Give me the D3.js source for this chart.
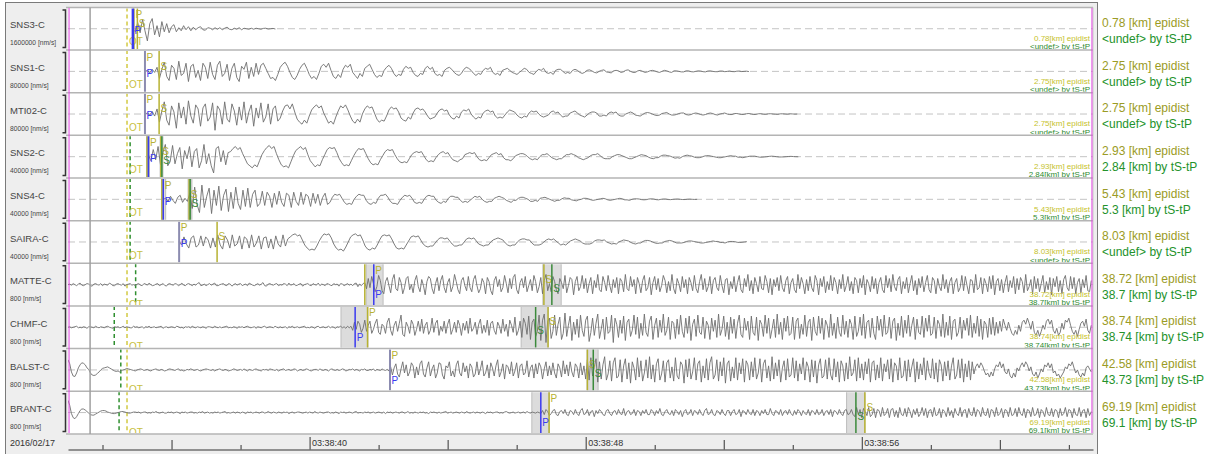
<!DOCTYPE html>
<html>
<head>
<meta charset="utf-8">
<script src="https://cdn.jsdelivr.net/npm/d3@7"></script>
<style>
body { margin: 0; background: #fff; }
text { font-family: "Liberation Sans", Arial, sans-serif; }
</style>
</head>
<body>
<svg id="mainsvg" width="1212" height="454"></svg>
<script>
// stations, scale labels and distances
const stations = ['SNS3-C', 'SNS1-C', 'MTI02-C', 'SNS2-C', 'SNS4-C', 'SAIRA-C', 'MATTE-C', 'CHMF-C', 'BALST-C', 'BRANT-C'];
const ampScale = ['1600000', '80000', '80000', '40000', '40000', '40000', '800', '800', '800', '800'];
const epiDist = ['0.78', '2.75', '2.75', '2.93', '5.43', '8.03', '38.72', '38.74', '42.58', '69.19'];
const tsTpDist = [null, null, null, '2.84', '5.3', null, '38.7', '38.74', '43.73', '69.1'];

// times in seconds after 2016/02/17 03:38:00 UTC
const viewStart = 33.0, viewEnd = 62.7;
const originTime = 34.71;
const refMark = 33.64;
const traceEdges = [33.03, 62.67];
const tsTpOrigin = [null, null, null, 34.80, 34.80, 34.80, 34.96, 34.34, 34.53, 34.48];
const pAuto = [34.91, 35.23, 35.23, 35.29, 35.72, 36.22, 41.60, 41.68, 42.33, 46.94];
const pManual = [34.88, 35.23, 35.23, 35.33, 35.76, 36.22, 41.86, 41.32, 42.33, 46.70];
const sAuto = [35.01, 35.64, 35.64, 35.69, 36.51, 37.32, 46.79, 46.91, 48.05, 56.09];
const sManual = [null, null, null, 35.72, 36.54, null, 47.02, 46.55, 48.22, 55.83];
const pBand = [null, null, null, [35.28, 35.36], [35.72, 35.83], null, [41.64, 42.13], [40.91, 41.69], null, [46.44, 46.94]];
const sBand = [null, null, null, [35.67, 35.75], [36.48, 36.59], null, [46.76, 47.29], [46.13, 46.91], [48.04, 48.36], [55.56, 56.09]];

// waveforms: first sample time, sample step (s), relative amplitude
const traceStart = [34.88, 35.23, 35.23, 35.33, 35.76, 36.22, 33.0, 33.0, 33.0, 33.0];
const sampleDt = [0.07, 0.07, 0.07, 0.07, 0.07, 0.07, 0.05, 0.05, 0.05, 0.05];
const wSNS3 = [0,-3,6,-4,9,-2,-12,5,10,-6, 3,-8,7,-3,5,-4,2,4,-3,1, -2,3,-1,2,-2,1.5,-1,1,2,-1,
  -1.5,1,0.5,-1,1,-0.5,1,-1,0.5,1.5, -0.5,-1,0.5,-0.5,1,-1,0.5,0,-0.5,0.5, -0.5,0.5,0,-0.5,0.3,0.5,-0.3,0,0.3,-0.3];
const wSNS1 = [0,1,-1.5,2,-1,
  4,-7,2,9,-5,-9,6,3,-8,10,-4,-2,8,-10,5,7,-6,1,-9,8,4,-7,9,-3,-8,6,10,-5,-2,7,-9,3,8,-6,-10,5,2,9,-7,4,-5,8,-3,
  6,8,3,-2,-7,-6,-9,-3,4,7,9,5,-1,-6,-8,-4,2,6,8,3,-3,-7,-5,-8,-2,5,7,4,8,1,-5,-7,-3,-6,2,6,4,7,-1,-4,-7,-2,-5,3,5,7,2,-3,-6,-4,-5,1,4,6,3,-2,-5,-3,
  -4,2,5,3,4,-1,-4,-5,-2,-3,3,5,2,4,-2,-4,-3,-5,1,3,4,2,-1,-3,-4,-2,2,4,3,1,-2,-4,-2,-3,1,3,2,4,-1,-3,-2,-4,
  1,2,3,1,-1,-2,-3,-1,1,3,2,-1,-2,-3,0,2,1,3,-1,-2,-1,-3,1,2,2,0,-2,-1,-2,1,2,1,-1,-2,-1,1,1.5,0.5,-1,-1.5,0,
  1,1.5,-0.5,-1,-1.5,0.5,1,0.5,-1,-0.5,1,1.5,0,-1,-1,0.5,1,0,-1,-0.5,0.5,1,0.5,-0.5,-1,0,1,0.5,-0.5,-1,
  0.5,0.5,0,-0.5,-0.5,0.5,0.5,-0.3,-0.5,0,0.5,0.3,-0.3,-0.5,0.3,0.5,0,-0.3,-0.3,0.3,0.3,-0.3,0,0.3,-0.2,-0.3,0.2,0.3,-0.2,0,0.2,-0.2];
const wMTI02 = [0,1,-1,2.5,-2,
  5,-8,3,12,-6,-11,8,2,-14,11,-4,7,-10,13,-2,-9,9,5,-12,6,10,-7,-3,11,-16,8,4,-10,12,-5,-8,10,3,-11,7,-6,12,-9,2,9,-12,6,-4,11,-8,-3,10,-10,5,8,-7,
  -4,3,8,9,5,10,2,-5,-8,-10,-6,-9,-2,4,7,9,6,8,1,-4,-9,-7,-10,-3,3,8,6,9,4,-2,-7,-9,-5,-8,0,5,8,6,7,1,-5,-8,-6,-7,-2,4,7,5,6,2,-4,-6,-7,-3,-5,1,5,6,
  4,5,2,-2,-5,-4,-3,1,4,5,3,4,-1,-4,-5,-2,-4,2,4,3,5,0,-3,-5,-3,-4,1,3,4,2,3,-2,-4,-3,-4,-1,2,4,3,2,-1,-3,-4,-2,-3,1,3,2,3,0,-2,-3,-2,-1,
  2,3,1,2,-1,-3,-2,-2,1,2,3,1,-1,-2,-3,-1,1,2,2,1,-2,-2,-1,-2,1,2,1,2,-1,-2,-2,0,1,2,1,-1,-1.5,-2,-0.5,1,1.5,1,0,-1,-1.5,-1,0.5,1,1.5,0,-1,-1,-0.5,0.5,1,1,-0.5,-1,-0.5,0.5,1,0.5,
  -0.5,-1,-0.5,0.5,1,0.5,-0.5,-1,0,0.5,1,0,-0.5,-0.5,0.5,0.5,0,-0.5,-0.3,0.3,0.5,0,-0.5,-0.3,0.3,0.3,-0.2,-0.3,0.2,0.3,0,-0.2,-0.3,0.2,0.2,0,-0.2,0.2,0.1,-0.1,0];
const wSNS2 = [2,-4,7,-3,10,-8,4,12,-9,-5,11,-7,3,9,-12,6,-2,10,-10,5,8,-11,-4,12,-7,3,-9,-16,8,10,-5,6,-8,4,
  5,8,10,7,9,3,-2,-7,-9,-11,-8,-10,-4,2,6,9,11,8,10,3,-3,-8,-10,-9,-11,-5,1,6,8,10,7,9,2,-4,-7,-10,-8,-9,-3,2,7,9,8,9,4,-2,-6,-9,-8,-9,-4,1,5,8,7,8,3,-2,-6,-8,-7,-8,-3,1,5,7,6,7,2,-2,-5,
  -6,-5,-6,-2,2,4,5,4,5,1,-3,-5,-4,-5,-1,2,4,5,3,4,0,-3,-4,-5,-3,-2,2,3,4,3,4,0,-3,-4,-3,-4,-1,2,3,4,2,3,-1,-3,-3,-4,-2,1,2,3,3,2,0,-2,-3,-2,-3,0,2,2,3,1,
  -1,-2,-3,-2,-2,0,2,2,3,2,1,-1,-2,-3,-2,-1,1,2,2,3,1,-1,-2,-2,-2,0,1,2,2,1,0,-1,-2,-2,-1,0,1,2,1.5,1,-0.5,-1.5,-2,-1,-1,0.5,1.5,1.5,1,0.5,-0.5,-1.5,-1,-1.5,0,1,1.5,1,0.5,-0.5,-1,-1,
  -0.5,0.5,1,1,0.5,0,-0.5,-1,-1,-0.5,0,0.5,1,0.5,0.5,-0.5,-0.5,-1,-0.5,0,0.5,0.5,0.5,0,-0.5,-0.5,-0.3,0,0.3,0.5,0.3,0,-0.3,-0.3,-0.2,0,0.2,0.3,0.1,0,-0.1];
const wSNS4 = [0,1,-2,3,-1,-4,2,4,-3,1,-2,
  6,-9,12,-5,-13,14,-8,3,11,-14,9,-6,13,-11,4,10,-12,7,-9,12,-4,-10,9,-7,11,
  -8,5,9,-7,-4,8,-6,7,3,-8,6,-5,8,-3,-7,6,4,-8,7,-2,-6,7,-5,5,3,-7,6,-4,5,-6,2,6,-5,
  -3,2,5,4,5,1,-3,-5,-4,-5,0,3,5,4,4,-1,-4,-5,-3,-4,1,4,4,5,2,-2,-4,-4,-5,-1,2,4,3,4,1,-3,-4,-3,-4,0,3,4,3,3,-1,-3,-4,-2,-3,1,
  3,3,2,2,-1,-3,-2,-3,-1,1,3,2,3,0,-2,-3,-2,-2,1,2,3,2,1,-1,-2,-3,-1,-1,1,2,2,1,0,-2,-2,-1,-2,1,1.5,2,1,0,-1,-2,-1,-1,0.5,1.5,1,1,-0.5,-1,-1.5,-0.5,0,1,1,0.5,-0.5,-1,-0.5,0,
  0.5,1,0.5,-0.5,-1,-0.5,0,0.5,1,0.5,-0.5,-0.5,-1,0,0.5,0.5,0.3,-0.3,-0.5,-0.3,0.3,0.5,0.3,-0.3,-0.5,0,0.3,0.3,-0.2,-0.3,0,0.2,0.3,0,-0.2,-0.2,0.1,0.2,0,-0.1,0];
const wSAIRA = [1,-3,5,-2,-6,4,6,-5,-3,6,-4,5,2,-6,4,
  -5,7,-3,-7,6,2,-6,7,-4,-2,6,-7,5,3,-6,7,-5,-1,6,-7,4,5,-6,3,-7,6,-2,-5,7,-4,3,
  5,7,8,6,7,2,-3,-6,-8,-7,-8,-4,1,5,8,7,8,4,-2,-6,-8,-7,-9,-5,0,5,7,8,6,7,2,-4,-7,-8,-6,-7,-3,2,6,7,6,7,3,-2,-6,-7,-6,-7,-3,1,5,6,5,6,
  2,-2,-4,-5,-4,-4,-1,2,4,4,3,4,1,-2,-4,-4,-3,-3,0,3,4,3,4,1,-2,-3,-4,-3,-3,0,2,3,4,3,2,-1,-3,-4,-3,-3,0,2,3,3,2,2,-1,-3,-3,-3,-2,0,2,3,2,3,1,-1,-3,-2,-3,-1,1,2,3,2,1,-1,-2,-2,-2,-1,1,2,
  2,1.5,2,0,-1,-2,-1.5,-2,0,1,2,1.5,1,-0.5,-1.5,-2,-1,-1,0.5,1.5,1.5,1,0,-1,-1.5,-1,-1,0.5,1,1.5,1,0,-1,-1,-1,-0.5,0.5,1,1,0.5,0,-0.5,-1,-1,-0.5,0,0.5,1,0.5,0.5,-0.5,-0.5,-1,0,0.5,0.5,0.3,-0.3,-0.5,-0.3,0,0.3];
const wMATTE = [0,0.5,-0.5,1,0,-1,0.5,1.5,-0.5,-1,0,1,0.5,-1,-1.5,0.5,1,0,-0.5,1,
  -1,0.5,0,-0.5,1.5,0.5,-1,-1,0.5,1,0,-0.5,1,-1.5,0,0.5,1,-0.5,0,-1,
  0.5,1,-0.5,-1,1,0.5,-0.5,1.5,0,-1,-0.5,0.5,1,-1,0,1,-0.5,-1.5,0.5,1,
  0,-0.5,1,0.5,-1,0,1.5,-0.5,-1,0.5,1,0,-1,0.5,-0.5,1,2,-1,-0.5,0.5,
  -1,0,1,-0.5,0.5,1.5,-1,-1,0,0.5,1,-0.5,-1,1,0.5,-1.5,0,1,-0.5,0.5,
  1,-1,0,0.5,-1,1.5,0.5,-0.5,-1,0,1,-0.5,0.5,2,-1,-1.5,0.5,1,0,-0.5,
  0.5,1,-1,0,-0.5,1,0.5,-1,1.5,-0.5,0,1,-1,-0.5,0.5,1,-1.5,0,0.5,1,
  -0.5,-1,1,0,-0.5,1.5,-1,0.5,0,-1,1,0.5,-0.5,-1,1,0,0.5,-1.5,1,0.5,
  -1,0,1,-0.5,0.5,-1,1,1.5,-2,0.5,-1,1,
  2,-4,6,-3,8,1,-7,-2,9,4,-6,-9,3,7,-1,-8,5,10,-4,-6,
  7,2,-9,-3,6,8,-5,0,-8,4,9,-2,-7,5,-1,-10,3,8,6,-4,
  -9,1,7,-6,4,9,-3,-8,2,6,-7,-2,10,3,-5,-9,4,7,-1,-6,
  8,-3,-7,5,9,-1,-8,-4,6,2,-9,7,3,-6,-10,4,8,-2,5,-7,
  -3,9,1,-8,6,-4,7,10,-5,-9,2,6,-3,8,-7,-1,5,-6,9,3,
  -8,-2,7,-9,4,10,-6,1,-7,8,3,-5,-9,6,2,-4,9,-8,-1,7,
  5,-10,3,8,-6,-2,9,-4,6,-8,1,7,-9,4,-3,10,-5,-7,8,2,
  -6,9,-1,-8,5,-3,7,-9,6,3,-7,10,-4,-6,8,-2,5,-9,7,1,
  -8,4,9,-6,-3,7,-10,2,8,-5,6,-7,-1,9,4,-8,3,-6,10,-4,
  -9,6,1,-7,8,-3,5,-9,7,2,-6,9,-4,-8,3,10,-5,6,-7,-2,
  8,-9,4,7,-3,-6,9,-1,-8,5,6,-10,3,-4,8,-7,2,9,-5,-8,
  6,-2,10,-6,4,-9,7,1,-7,8,-4,-5,9,3,-8,6,-10,5,-2,7,
  -6,9,-3,-7,4,8,-9,2,6,-5,-8,10,-4,7,1,-9,5,-6,8,-3,
  -7,9,4,-10,6,-2,8,-8,3,-5,9,-6,7,2,-9,5,-4,10,-7,-1,
  8,-6,3,-9,7,4,-8,6,-3,9,-10,5,1,-7,8,-4,6,-9,2,7,
  -5,-8,9,-3,6,-7,10,-2,-6,5,8,-9,3,-4,7,-8,1,9,-6,4,
  -10,6,-3,8,-7,2,9,-5,-8,7,4,-9,6,-2,-6,10,-4,5,-8,3,
  7,-9,2,6,-7,-3,9,-6,8,-1,-9,5,4,-8,10,-5,-3,7,-9,6,
  1,-7,8,-4,9,-10,3,6,-6,5,-8,2,9,-7,4,-3,8,-9,6,-5,
  7,3,-8,10,-6,-2,5,-9,8,-4,6,-7,1,9,-8,3,-5,7,-10,6,
  -2,8,-7,4,-9,5,9,-3,-6,8,-4,7,-9,2,6,-8,5,-3,9,-6,
  -7,4];
const wCHMF = [0,0.5,-0.5,0,0.5,1,-0.5,0,-0.5,0.5,0,-1,0.5,0.5,0,-0.5,1,0,-0.5,0.5,
  0,-0.5,0.5,1,0,-0.5,-1,0.5,0,0.5,-0.5,0,1,-0.5,0.5,0,-0.5,-0.5,1,0,
  0.5,-0.5,0,0.5,-1,0.5,0,1,-0.5,0,0.5,-0.5,0,0.5,1,-1,0,0.5,-0.5,0,
  0.5,0,-0.5,1,0.5,-0.5,0,-1,0.5,0,0.5,-0.5,1,0,-0.5,0.5,0,-0.5,0.5,0,
  -1,0.5,0.5,0,-0.5,1,0,-0.5,0.5,-0.5,0,0.5,1,-0.5,0,-0.5,0.5,0,-1,0.5,
  0,0.5,-0.5,0.5,1,0,-0.5,0,0.5,-1,0.5,0,-0.5,0.5,1,-0.5,0,0.5,0,-0.5,
  1,0,-0.5,0.5,-0.5,0,0.5,-1,0.5,0,1,-0.5,0,0.5,-0.5,0,0.5,1,-0.5,0,
  -0.5,0.5,0,-1,0.5,1,-0.5,0,0.5,-0.5,0,1,-0.5,0.5,0,-1,0.5,0,1,-0.5,
  0.5,-1,1,-0.5,
  1,-3,5,-2,6,3,-5,-1,7,-4,2,6,-6,-2,4,8,-5,-7,3,1,
  -6,5,9,-3,-8,2,6,-4,4,12,-7,-9,5,1,-6,7,3,-8,-2,6,
  -4,8,-6,2,5,-7,-3,9,-5,4,7,-8,1,-4,6,-6,3,8,-7,-2,
  5,-5,7,2,-8,4,-3,6,-6,9,-4,-1,5,-7,3,8,-6,2,-5,7,
  -8,4,6,-3,-7,5,1,-6,8,-4,3,-9,7,2,-5,10,-8,-3,6,-10,
  9,4,-7,11,-12,5,8,-9,-4,12,-13,7,
  13,-15,6,9,-11,-4,12,-8,3,10,-12,-6,14,-9,2,11,-13,5,-7,8,
  -10,12,-3,-9,7,11,-14,-5,9,-8,4,13,-11,-2,8,-12,10,-6,-4,12,
  -15,9,3,-10,7,-6,11,-13,5,8,-9,-3,12,-7,10,-11,4,-8,13,-5,
  -9,6,11,-12,2,9,-10,7,-5,13,-8,-3,10,-12,6,4,-11,8,-7,12,
  -4,-10,9,-6,11,-13,3,8,-9,12,-5,-7,10,-11,6,2,-12,9,-4,7,
  -10,13,-8,-2,11,-9,5,-12,10,-6,8,-11,4,12,-7,-10,9,-3,6,-12,
  11,-5,-8,10,-13,7,3,-9,12,-6,9,-11,-2,8,-10,13,-7,5,-12,9,
  -4,11,-8,-6,10,-12,6,9,-11,3,-7,12,-9,5,8,-13,10,-4,-8,11,
  -6,9,-12,7,2,-10,13,-8,4,-11,10,-5,-9,12,-7,6,-10,8,3,-12,
  11,-9,-4,10,-8,13,-11,5,7,-10,9,-6,-12,11,-3,8,-9,12,-7,-5,
  10,-11,6,9,-13,4,-8,11,-10,7,-6,12,-9,2,10,-12,8,-5,-7,11,
  -10,9,-4,12,-8,-6,10,-11,7,3,-9,13,-10,5,-8,11,-12,6,8,-9,
  -5,10,-11,7,-3,9,-8,12,-10,4,-6,11,-9,8,-12,6,3,-10,9,-7,
  10,-8,5,-6,
  6,-4,8,2,-3,5,-1,-6,-8,-3,-7,2,-4,5,7,3,9,4,-2,6,
  -5,-8,-3,-9,-4,2,-2,6,8,3,7,-3,-6,-1,-8,-5,4,-2,7,5,
  9,2,-4,-7,-3,-9,-2,4,6,1,8,-3,-6,2];
const wBALST = [10,6,-2,-6,-6.5,-3,2,5,7,6.5,5,2,0.5,-3,-5,-5.5,-5,-3.5,-2,0,1.5,2,2.5,3,2,1,0,-1,-1.5,-1,-2,-0.5,0,0.5,1.5,1,0.5,0,-0.5,-1,
  0,0.5,1,0.5,-0.5,0,0.5,-0.5,-1,0,0.5,1,0,-0.5,0.5,0,-1,-0.5,0.5,1,
  0.5,0,-0.5,0.5,1,-0.5,0,-1,-0.5,0.5,0,1,0.5,-0.5,0,0.5,-0.5,-1,0,0.5,
  1,0.5,0,-0.5,0.5,-1,0,0.5,1,0,-0.5,0.5,0,-1,-0.5,0,1,0.5,-0.5,0,
  0.5,-0.5,1,0,-1,0.5,0,-0.5,0.5,1,0,-0.5,-1,0.5,0,0.5,-0.5,1,0.5,0,
  -0.5,0.5,-1,0,0.5,1,-0.5,0,0.5,-0.5,0,1,0.5,-1,0,0.5,-0.5,0,1,0.5,
  -0.5,-1,0,0.5,0.5,-0.5,1,0,-0.5,0.5,0,-1,0.5,1,0,-0.5,0.5,-0.5,0,1,
  0.5,-1,-0.5,0.5,0,1,-0.5,0.5,0,-1,0.5,0,1,-0.5,-0.5,0.5,0,1,-1,0.5,
  0,-0.5,1,0,-0.5,0.5,
  -1,3,-5,2,6,-4,-7,1,8,-3,5,-6,-2,7,4,-8,3,-5,6,9,
  -4,-7,2,8,-6,1,5,-8,-3,7,6,-5,-9,4,2,8,-6,-1,-7,5,
  9,-3,-6,7,-2,4,-8,6,3,-7,-4,8,-5,1,9,-6,-3,5,-8,7,
  2,-6,4,10,-7,-2,6,-9,5,3,-4,8,-6,-1,7,-8,4,6,-5,-3,
  9,-7,2,5,-8,6,-4,7,3,-9,1,8,-6,4,-5,7,-3,-8,6,2,
  -7,9,-4,5,-6,8,-2,-7,6,3,-8,7,-5,4,-9,10,
  -10,12,-6,3,11,-12,8,-9,5,13,-10,-4,9,-11,7,12,-8,-6,10,-12,
  4,11,-9,7,-13,8,2,-10,12,-7,9,-11,-3,10,-8,13,-9,5,-12,6,
  11,-10,-4,9,-12,7,10,-8,3,-11,12,-6,-9,8,5,-13,10,-7,11,-9,
  -2,12,-10,6,9,-12,4,-8,11,-10,7,13,-9,-5,10,-11,8,-6,12,-13,
  6,9,-11,3,-8,12,-10,7,-4,11,-12,9,5,-10,8,-7,12,-9,-3,11,
  -12,6,10,-8,4,-11,13,-9,7,-6,10,-12,2,9,-10,11,-7,-5,12,-8,
  9,-11,6,-4,12,-10,8,3,-12,10,-7,9,-13,5,11,-8,-6,10,-9,12,
  -5,-10,11,-7,8,-12,9,4,-11,7,-9,13,-6,-3,10,-11,12,-8,6,-10,
  8,-4,11,-12,7,9,-10,5,-8,12,-11,6,-2,10,-9,11,-12,7,4,-10,
  12,-8,-6,9,-11,10,-7,3,11,-12,8,-9,6,-5,12,-10,9,-3,-8,11,
  -9,7,-12,10,5,-11,8,-6,9,-10,4,12,-9,-5,10,-8,11,-12,6,-7,
  9,-10,8,-4,
  3,6,2,7,4,-1,-5,-3,-7,-2,-6,1,5,3,8,2,6,-2,-4,1,
  -6,-8,-3,-7,2,-1,4,7,3,8,5,-1,3,-4,-6,-2,-8,-4,1,-2,
  5,3,7,2,6,-3,-1,-6,-4,-8,-5,-2,3,1,6,4,8,2,-3,0,
  -5,-7,-3,-6,2,4,1,-2];
const wBRANT = [12,7,-1,-5,-6,-4,-1,2,3.5,3.5,2.5,1,-0.5,-2,-2.5,-2.5,-1.5,-0.5,0.5,1.5,2,2,1.5,0.5,0,-0.5,-1,-1,-0.5,0,0.5,1,1,0.5,0,-0.5,-0.5,0,0.5,0.5,
  0,0.5,-0.5,0,0.5,0.5,-0.5,0,-0.5,0.5,0,1,0,-0.5,0,0.5,-0.5,-0.5,0.5,0,
  0.5,-0.5,0,0.5,0,-1,0.5,0,0.5,-0.5,0,0.5,0.5,-0.5,0,-0.5,0.5,0,1,-0.5,
  0,0.5,-0.5,0,-0.5,0.5,0,0.5,-0.5,0,0.5,1,-0.5,0,-0.5,0,0.5,-0.5,0.5,0,
  -0.5,0.5,0,-1,0.5,0,0.5,-0.5,0,0.5,0,-0.5,0.5,0.5,-0.5,0,1,0,-0.5,0.5,
  0,-0.5,0.5,0,-0.5,0.5,0,0.5,-1,0,0.5,-0.5,0,0.5,0.5,0,-0.5,0,0.5,-0.5,
  0.5,0,-0.5,1,0,-0.5,0.5,0,-0.5,0,0.5,0.5,-0.5,0,-0.5,0.5,0,-1,0.5,0,
  0.5,-0.5,0,0.5,0,-0.5,0.5,1,-0.5,0,0,-0.5,0.5,0,0.5,-0.5,0,0.5,-0.5,0,
  0.5,0,-0.5,0.5,-1,0.5,0,0.5,-0.5,0,0.5,0,-0.5,0.5,0.5,-0.5,0,1,-0.5,0,
  -0.5,0.5,0,-0.5,0.5,0,0.5,-0.5,0,-1,0.5,0,0.5,0,-0.5,0.5,-0.5,0,0.5,1,
  -0.5,0,0.5,-0.5,0,0.5,0,-0.5,0.5,0,-0.5,1,0,-0.5,0,0.5,-0.5,0.5,0,-0.5,
  0.5,0,-1,0.5,0,0.5,-0.5,0,0.5,0.5,-0.5,0,-0.5,0.5,1,0,-0.5,0,0.5,-0.5,
  0,0.5,-0.5,0,0.5,-0.5,1,0,-0.5,0.5,0,-0.5,0.5,0,
  -1,2,-2,3,1,-3,-1,2,3,-2,-3,1,2,-1,3,-2,-3,2,1,-2,
  3,-1,-3,2,4,-2,-1,3,-3,1,2,-4,2,-1,3,1,-2,-3,2,3,
  -1,-3,1,2,-2,3,-1,-2,4,-3,1,2,-2,-1,3,-3,2,1,-3,2,
  -1,3,-2,-2,3,1,-3,2,-1,4,-2,-3,1,3,-1,-2,2,-3,3,1,
  -2,2,-4,1,3,-2,-1,3,-3,2,1,-2,3,-1,-3,2,4,-2,-1,3,
  -2,-3,2,1,-2,3,-1,-3,2,2,-3,1,3,-2,-1,3,-4,2,1,-2,
  3,-1,-2,3,-3,2,1,-3,2,-1,3,-2,-2,4,-1,-3,2,1,-2,3,
  -3,1,2,-2,3,-1,-3,2,-2,3,1,-3,2,-1,-2,3,-3,2,1,-2,
  3,-2,-1,3,-3,1,2,-2,3,-4,2,1,-2,3,-1,-3,2,3,-2,-1,3,-2,
  -4,5,-2,3,-5,4,1,-3,5,-4,-2,4,-5,3,2,-4,5,-3,-1,4,
  -5,3,4,-4,2,-5,5,-2,-3,4,-4,5,1,-5,3,-2,4,-4,-1,5,
  -3,4,-5,2,3,-4,5,-3,-2,4,-5,3,1,-4,5,-3,2,-5,4,-1,
  -3,5,-4,2,3,-5,4,-2,-3,5,-4,3,1,-4,5,-2,-3,4,-5,3,
  2,-4,5,-3,-1,4,-5,3,2,-4,5,-3,-2,4,-4,5,-1,-3,4,-5,
  3,2,-4,5,-3,-2,4,-5,3,1,-4,5,-2,-3,4,-4,3,2,-5,4,
  -3,-1,5,-4,3,2,-5,4,-2,-3,5,-4,2,3,-5,4,-3,1];
const waves = [wSNS3, wSNS1, wMTI02, wSNS2, wSNS4, wSAIRA, wMATTE, wCHMF, wBALST, wBRANT];

const svg = d3.select('#mainsvg');
const traceLeft = 68, traceRight = 1093;
const base = Date.UTC(2016, 1, 17, 3, 38, 0);
const sec = s => new Date(base + s * 1000);
const elapsed = d => Math.round((d - base) / 1000);

const xScale = d3.scaleUtc()
    .domain([sec(viewStart), sec(viewEnd)])
    .range([traceLeft, traceRight]);

const yRow = d3.scaleBand()
    .domain(stations)
    .range([7.4, 433.9]);
const rowH = yRow.bandwidth();

const yAmp = d3.scaleLinear()
    .domain([-20, 20])
    .range([rowH - 1, 1]);

const olive = '#b7b232', blue = '#3a3af0', green = '#3b8a3b', mixed = '#8c8cb0';

// panel background
svg.append('rect').attr('x', 5.5).attr('y', 2.5).attr('width', 1092).attr('height', 460)
    .attr('fill', '#eeeeee').attr('stroke', '#7a7a7a');

const defs = svg.append('defs');
const rowsG = svg.append('g');

stations.forEach((name, r) => {
    const top = yRow(name);
    defs.append('clipPath').attr('id', `clip${r}`)
        .append('rect').attr('x', traceLeft).attr('y', 1).attr('width', traceRight - traceLeft).attr('height', rowH - 2);

    const g = rowsG.append('g').attr('transform', `translate(0,${top})`);
    g.append('rect').attr('x', traceLeft).attr('y', 0).attr('width', traceRight - traceLeft).attr('height', rowH)
        .attr('fill', '#fff');

    // station label and scale
    g.append('text').attr('x', 10).attr('y', 21).attr('font-size', 9.5).attr('fill', '#444').text(name);
    g.append('text').attr('x', 10).attr('y', 38).attr('font-size', 6.7).attr('fill', '#444').text(`${ampScale[r]} [nm/s]`);

    // bracket
    g.append('path').attr('d', `M62.5,2.5H65.5V${rowH - 2.5}H62.5`).attr('fill', 'none')
        .attr('stroke', '#333').attr('stroke-width', 1.5);

    const c = g.append('g').attr('clip-path', `url(#clip${r})`);

    c.append('line').attr('x1', traceLeft).attr('x2', traceRight).attr('y1', yAmp(0)).attr('y2', yAmp(0))
        .attr('stroke', '#c4c4c4').attr('stroke-dasharray', '7,4');

    [pBand[r], sBand[r]].filter(b => b).forEach(b => {
        c.append('rect').attr('x', xScale(sec(b[0]))).attr('y', 0)
            .attr('width', xScale(sec(b[1])) - xScale(sec(b[0]))).attr('height', rowH)
            .attr('fill', '#dcdcdc').attr('stroke', '#bdbdbd');
    });

    // origin time and tS-tP origin
    const xo = xScale(sec(originTime));
    c.append('line').attr('x1', xo).attr('x2', xo).attr('y1', 0).attr('y2', rowH)
        .attr('stroke', '#d2c942').attr('stroke-width', 1.5).attr('stroke-dasharray', '4,3');
    if (tsTpOrigin[r] !== null) {
        const xg = xScale(sec(tsTpOrigin[r]));
        c.append('line').attr('x1', xg).attr('x2', xg).attr('y1', 0).attr('y2', rowH)
            .attr('stroke', '#2f8f2f').attr('stroke-width', 1.5).attr('stroke-dasharray', '4,3');
    }
    const far = r >= 6;
    c.append('text').attr('x', xo + 2).attr('y', far ? 44.5 : 38).attr('font-size', 10)
        .attr('fill', '#c8c040').text('OT');

    // waveform
    const line = d3.line()
        .x((d, j) => xScale(sec(traceStart[r] + j * sampleDt[r])))
        .y(d => yAmp(d));
    c.append('path').datum(waves[r]).attr('d', line)
        .attr('fill', 'none').attr('stroke', '#6e6e6e').attr('stroke-width', 0.9)
        .attr('stroke-linejoin', 'round');

    // picks
    const vline = (t, col, w) => {
        const xp = xScale(sec(t));
        c.append('line').attr('x1', xp).attr('x2', xp).attr('y1', 0).attr('y2', rowH)
            .attr('stroke', col).attr('stroke-width', w);
        return xp;
    };
    const same = pAuto[r] === pManual[r];
    const xpa = vline(pAuto[r], same ? mixed : olive, same ? 2 : 1.5);
    const xpm = same ? xpa : vline(pManual[r], blue, r === 0 ? 2.5 : 1.5);
    const xsa = vline(sAuto[r], olive, 1.5);
    const pick = (x, y, col, t) => c.append('text').attr('x', x).attr('y', y)
        .attr('font-size', 10).attr('fill', col).text(t);
    pick(Math.max(xpa, xpm) + 1.5, 10.5, olive, 'P');
    pick(xpm + 1.5, far ? 35 : 26.5, blue, 'P');
    pick(xsa + 1.5, 19.5, olive, 'S');
    if (sManual[r] !== null) {
        const xsm = vline(sManual[r], green, 1.5);
        pick(xsm + 1.5, 28.5, green, 'S');
    }

    // small distance notes
    c.append('text').attr('x', 1090).attr('y', 33.5).attr('text-anchor', 'end').attr('font-size', 8)
        .attr('fill', '#c6c22c').text(`${epiDist[r]}[km] epidist`);
    c.append('text').attr('x', 1090).attr('y', 42).attr('text-anchor', 'end').attr('font-size', 8)
        .attr('fill', '#2e8b2e').text(tsTpDist[r] === null ? '<undef> by tS-tP' : `${tsTpDist[r]}[km] by tS-tP`);

    // right column
    svg.append('text').attr('x', 1102).attr('y', top + 19.5).attr('font-size', 12)
        .attr('fill', '#9b9b25').text(`${epiDist[r]} [km] epidist`);
    svg.append('text').attr('x', 1102).attr('y', top + 35.5).attr('font-size', 12)
        .attr('fill', '#23922b').text(tsTpDist[r] === null ? '<undef> by tS-tP' : `${tsTpDist[r]} [km] by tS-tP`);
});

// row separators
const bounds = stations.map(s => yRow(s)).concat([yRow.range()[1]]);
svg.append('g').selectAll('line').data(bounds).join('line')
    .attr('x1', 66).attr('x2', traceRight).attr('y1', d => d).attr('y2', d => d)
    .attr('stroke', '#b4b4b4').attr('stroke-width', 1.5);
svg.append('line').attr('x1', traceRight).attr('x2', traceRight).attr('y1', 7.4).attr('y2', 433.9)
    .attr('stroke', '#c8c8c8');

// reference marks across all rows
svg.append('line').attr('x1', xScale(sec(refMark))).attr('x2', xScale(sec(refMark)))
    .attr('y1', 7.4).attr('y2', 433.9).attr('stroke', '#a0a0a0').attr('stroke-width', 1.5);
svg.append('g').selectAll('line').data(traceEdges).join('line')
    .attr('x1', d => xScale(sec(d))).attr('x2', d => xScale(sec(d)))
    .attr('y1', 8).attr('y2', 433).attr('stroke', '#e040e0').attr('stroke-width', 1);

// time axis: label every 8 s, major tick every 4 s, minor every 2 s
const fmt = d3.utcFormat('%H:%M:%S');
const xAxis = d3.axisTop(xScale)
    .ticks(d3.utcSecond.every(2))
    .tickSizeOuter(0)
    .tickFormat(d => elapsed(d) % 8 === 0 ? fmt(d) : '');
const xAxisG = svg.append('g').attr('transform', 'translate(0,449.5)').call(xAxis)
    .attr('font-family', '"Liberation Sans", Arial, sans-serif');
xAxisG.select('.domain').attr('stroke', '#333');
xAxisG.selectAll('.tick line').attr('stroke', '#333')
    .attr('y2', d => elapsed(d) % 8 === 0 ? -12.5 : elapsed(d) % 4 === 0 ? -9.5 : -4.5);
xAxisG.selectAll('.tick text').attr('text-anchor', 'start').attr('x', 2).attr('y', -3.5).attr('dy', 0)
    .attr('font-size', 9).attr('fill', '#333');

svg.append('text').attr('x', 10).attr('y', 446).attr('font-size', 9).attr('fill', '#333').text('2016/02/17');
</script>
</body>
</html>
